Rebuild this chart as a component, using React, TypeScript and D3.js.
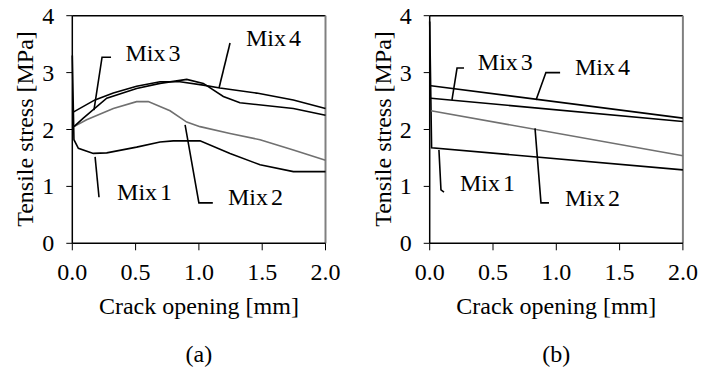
import * as d3 from "d3";
import React from "react";

// crack opening [mm] / tensile stress [MPa]
const mixNames = ["Mix 1", "Mix 2", "Mix 3", "Mix 4"];
const mixColors = ["#000", "#707070", "#000", "#000"];

// (a) measured curves
const mix1A = [[0, 3.3], [0.013, 1.82], [0.048, 1.67], [0.166, 1.58], [0.272, 1.59], [0.508, 1.69], [0.693, 1.78], [0.798, 1.8], [1.009, 1.8], [1.246, 1.58], [1.483, 1.38], [1.746, 1.26], [2.0, 1.26]];
const mix2A = [[0.013, 2.05], [0.113, 2.17], [0.324, 2.37], [0.508, 2.49], [0.6, 2.49], [0.772, 2.33], [0.904, 2.13], [1.009, 2.05], [1.246, 1.93], [1.483, 1.82], [1.746, 1.64], [2.0, 1.46]];
const mix3A = [[0.013, 2.05], [0.087, 2.2], [0.272, 2.55], [0.508, 2.72], [0.693, 2.81], [0.904, 2.88], [1.035, 2.81], [1.193, 2.58], [1.324, 2.47], [1.746, 2.37], [2.0, 2.25]];
const mix4A = [[0.011, 2.31], [0.179, 2.52], [0.324, 2.64], [0.508, 2.76], [0.693, 2.84], [0.85, 2.84], [1.035, 2.78], [1.166, 2.73], [1.456, 2.64], [1.746, 2.52], [2.0, 2.37]];

// (b) bilinear model
const mix1B = [[0, 3.9], [0.015, 1.68], [2.0, 1.29]];
const mix2B = [[0.01, 2.33], [2.0, 1.54]];
const mix3B = [[0.01, 2.55], [2.0, 2.14]];
const mix4B = [[0.01, 2.77], [2.0, 2.2]];

// label leaders: polyline in data units, text start point
const leadersA = [
  [[0.18, 1.52], [0.211, 0.81]],
  [[0.891, 2.08], [1.0, 0.71], [1.11, 0.71]],
  [[0.306, 3.27], [0.235, 3.27], [0.171, 2.34]],
  [[1.246, 3.52], [1.159, 2.73]],
];
const labelPosA = [[0.354, 0.9], [1.23, 0.82], [0.42, 3.34], [1.372, 3.61]];
const leadersB = [
  [[0.073, 1.64], [0.089, 0.94], [0.113, 0.9]],
  [[0.832, 2.02], [0.879, 0.71], [0.942, 0.71]],
  [[0.271, 3.08], [0.216, 3.08], [0.176, 2.52]],
  [[1.03, 3.0], [0.918, 3.0], [0.84, 2.52]],
];
const labelPosB = [[0.239, 1.06], [1.069, 0.79], [0.38, 3.18], [1.148, 3.1]];

const xTicks = [0, 0.5, 1, 1.5, 2];
const yTicks = [0, 1, 2, 3, 4];
const xTitle = "Crack opening [mm]";
const yTitle = "Tensile stress [MPa]";

const font = "'Liberation Serif', 'Times New Roman', serif";

function Panel({ left, series, leaders, labelPos, tag }) {
  const w = 253.2;
  const x = d3.scaleLinear().domain([0, 2]).range([left, left + w]);
  const y = d3.scaleLinear().domain([0, 4]).range([243.3, 15.7]);
  const line = d3.line().x((d) => x(d[0])).y((d) => y(d[1]));

  return (
    <g fontFamily={font} fontSize={24} fill="#000">
      {/* frame */}
      <line x1={x(0)} x2={x(2)} y1={y(4)} y2={y(4)} stroke="#000" strokeWidth={1.5} />
      <line x1={x(2)} x2={x(2)} y1={y(4)} y2={y(0)} stroke="#808080" strokeWidth={2} />
      <line x1={x(0)} x2={x(2)} y1={y(0)} y2={y(0)} stroke="#000" strokeWidth={1.5} />
      <line x1={x(0)} x2={x(0)} y1={y(0)} y2={y(4)} stroke="#000" strokeWidth={1.5} />
      {yTicks.map((t) => (
        <g key={"y" + t}>
          <line x1={x(0) - 6} x2={x(0)} y1={y(t)} y2={y(t)} stroke="#000" strokeWidth={1} />
          <text x={x(0) - 18} y={y(t)} textAnchor="end" dominantBaseline="central">{t}</text>
        </g>
      ))}
      {xTicks.map((t) => (
        <g key={"x" + t}>
          <line x1={x(t)} x2={x(t)} y1={y(0)} y2={y(0) + 7} stroke="#000" strokeWidth={1} />
          <text x={x(t)} y={280} textAnchor="middle">{t.toFixed(1)}</text>
        </g>
      ))}
      <text x={x(1)} y={314} textAnchor="middle">{xTitle}</text>
      <text x={x(1)} y={362} textAnchor="middle">{tag}</text>
      <text transform={`translate(${left - 39},129) rotate(-90)`} textAnchor="middle">{yTitle}</text>

      {series.map((s, i) => (
        <path key={"s" + i} d={line(s)} fill="none" stroke={mixColors[i]} strokeWidth={1.6} />
      ))}
      {leaders.map((l, i) => (
        <path key={"l" + i} d={line(l)} fill="none" stroke="#000" strokeWidth={1.6} />
      ))}
      {labelPos.map((p, i) => (
        <text key={"t" + i} x={x(p[0])} y={y(p[1])} dominantBaseline="central" wordSpacing={-3}>{mixNames[i]}</text>
      ))}
    </g>
  );
}

export default function App() {
  return (
    <svg width={716} height={376} style={{ position: "absolute", left: 0, top: 0, background: "#fff" }}>
      <rect width={716} height={376} fill="#fff" />
      <Panel left={72.3} series={[mix1A, mix2A, mix3A, mix4A]} leaders={leadersA} labelPos={labelPosA} tag="(a)" />
      <Panel left={429.7} series={[mix1B, mix2B, mix3B, mix4B]} leaders={leadersB} labelPos={labelPosB} tag="(b)" />
    </svg>
  );
}
